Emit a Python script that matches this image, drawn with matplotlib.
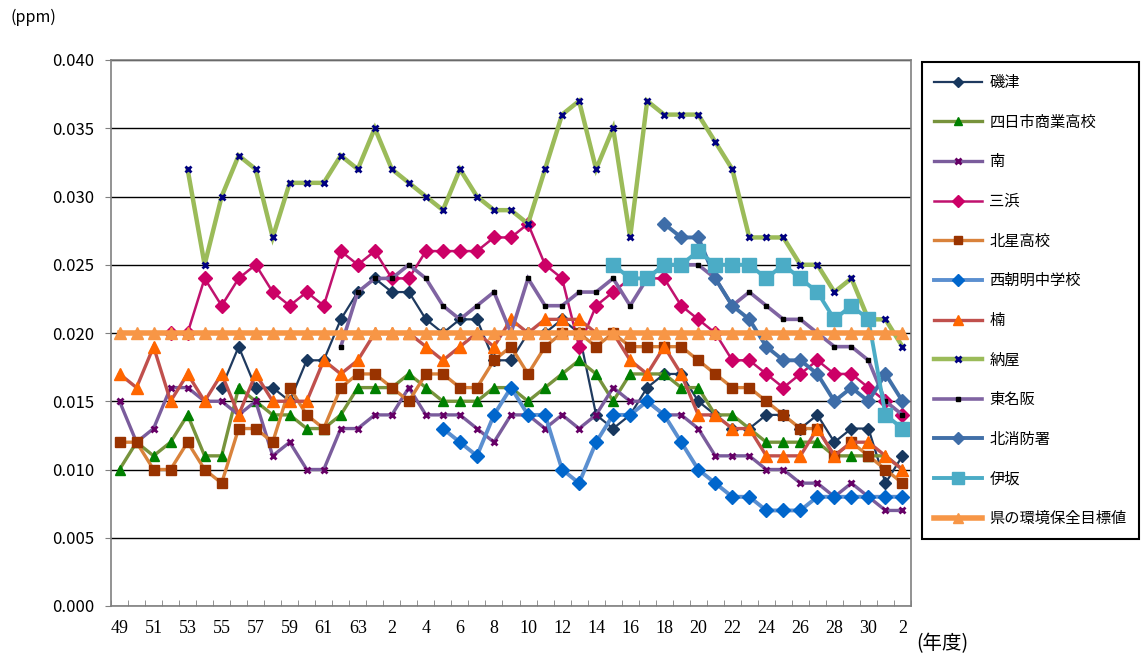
import numpy as np
import matplotlib
matplotlib.use("Agg")
import matplotlib.pyplot as plt
from matplotlib.ticker import FixedLocator

plt.rcParams['font.family'] = ['Noto Sans CJK JP', 'DejaVu Sans']

# years: S49..S63, H1..H30, R1, R2  (47 points)
years = [str(y) for y in range(49, 64)] + [str(y) for y in range(1, 31)] + ["元", "2"]
tick_labels = ["49", "51", "53", "55", "57", "59", "61", "63",
               "2", "4", "6", "8", "10", "12", "14", "16", "18", "20",
               "22", "24", "26", "28", "30", "2"]

N = None
isozu = [N, N, N, N, N, N,
         0.016, 0.019, 0.016, 0.016, 0.015, 0.018, 0.018, 0.021, 0.023,
         0.024, 0.023, 0.023, 0.021, 0.020, 0.021, 0.021, 0.018, 0.018, 0.020,
         0.020, 0.021, 0.020, 0.014, 0.013, 0.014, 0.016, 0.017, 0.017, 0.015,
         0.014, 0.013, 0.013, 0.014, 0.014, 0.013, 0.014, 0.012, 0.013, 0.013,
         0.009, 0.011]
shogyo = [0.010, 0.012, 0.011, 0.012, 0.014, 0.011, 0.011, 0.016, 0.015, 0.014,
          0.014, 0.013, 0.013, 0.014, 0.016,
          0.016, 0.016, 0.017, 0.016, 0.015, 0.015, 0.015, 0.016, 0.016, 0.015,
          0.016, 0.017, 0.018, 0.017, 0.015, 0.017, 0.017, 0.017, 0.016, 0.016,
          0.014, 0.014, 0.013, 0.012, 0.012, 0.012, 0.012, 0.011, 0.011, 0.011,
          0.011, 0.010]
minami = [0.015, 0.012, 0.013, 0.016, 0.016, 0.015, 0.015, 0.014, 0.015, 0.011,
          0.012, 0.010, 0.010, 0.013, 0.013,
          0.014, 0.014, 0.016, 0.014, 0.014, 0.014, 0.013, 0.012, 0.014, 0.014,
          0.013, 0.014, 0.013, 0.014, 0.016, 0.015, 0.015, 0.014, 0.014, 0.013,
          0.011, 0.011, 0.011, 0.010, 0.010, 0.009, 0.009, 0.008, 0.009, 0.008,
          0.007, 0.007]
mihama = [N, N, N,
          0.020, 0.020, 0.024, 0.022, 0.024, 0.025, 0.023, 0.022, 0.023, 0.022,
          0.026, 0.025,
          0.026, 0.024, 0.024, 0.026, 0.026, 0.026, 0.026, 0.027, 0.027, 0.028,
          0.025, 0.024, 0.019, 0.022, 0.023, 0.024, 0.024, 0.024, 0.022, 0.021,
          0.020, 0.018, 0.018, 0.017, 0.016, 0.017, 0.018, 0.017, 0.017, 0.016,
          0.015, 0.014]
hokusei = [0.012, 0.012, 0.010, 0.010, 0.012, 0.010, 0.009, 0.013, 0.013, 0.012,
           0.016, 0.014, 0.013, 0.016, 0.017,
           0.017, 0.016, 0.015, 0.017, 0.017, 0.016, 0.016, 0.018, 0.019, 0.017,
           0.019, 0.020, 0.020, 0.019, 0.020, 0.019, 0.019, 0.019, 0.019, 0.018,
           0.017, 0.016, 0.016, 0.015, 0.014, 0.013, 0.013, 0.011, 0.012, 0.011,
           0.010, 0.009]
nishiasake = [N] * 19 + [
              0.013, 0.012, 0.011, 0.014, 0.016, 0.014,
              0.014, 0.010, 0.009, 0.012, 0.014, 0.014, 0.015, 0.014, 0.012, 0.010,
              0.009, 0.008, 0.008, 0.007, 0.007, 0.007, 0.008, 0.008, 0.008, 0.008,
              0.008, 0.008]
kusu = [0.017, 0.016, 0.019, 0.015, 0.017, 0.015, 0.017, 0.014, 0.017, 0.015,
        0.015, 0.015, 0.018, 0.017, 0.018,
        0.020, 0.020, 0.020, 0.019, 0.018, 0.019, 0.020, 0.019, 0.021, 0.020,
        0.021, 0.021, 0.021, 0.020, 0.020, 0.018, 0.017, 0.019, 0.017, 0.014,
        0.014, 0.013, 0.013, 0.011, 0.011, 0.011, 0.013, 0.011, 0.012, 0.012,
        0.011, 0.010]
nagoya = [N, N, N, N,
          0.032, 0.025, 0.030, 0.033, 0.032, 0.027, 0.031, 0.031, 0.031, 0.033,
          0.032,
          0.035, 0.032, 0.031, 0.030, 0.029, 0.032, 0.030, 0.029, 0.029, 0.028,
          0.032, 0.036, 0.037, 0.032, 0.035, 0.027, 0.037, 0.036, 0.036, 0.036,
          0.034, 0.032, 0.027, 0.027, 0.027, 0.025, 0.025, 0.023, 0.024, 0.021,
          0.021, 0.019]
higashimeihan = [N] * 13 + [
                 0.019, 0.023,
                 0.024, 0.024, 0.025, 0.024, 0.022, 0.021, 0.022, 0.023, 0.020, 0.024,
                 0.022, 0.022, 0.023, 0.023, 0.024, 0.022, 0.024, 0.025, 0.025, 0.025,
                 0.024, 0.022, 0.023, 0.022, 0.021, 0.021, 0.020, 0.019, 0.019, 0.018,
                 0.015, 0.014]
kitashobo = [N] * 32 + [
             0.028, 0.027, 0.027,
             0.024, 0.022, 0.021, 0.019, 0.018, 0.018, 0.017, 0.015, 0.016, 0.015,
             0.017, 0.015]
isaka = [N] * 29 + [
         0.025, 0.024, 0.024, 0.025, 0.025, 0.026,
         0.025, 0.025, 0.025, 0.024, 0.025, 0.024, 0.023, 0.021, 0.022, 0.021,
         0.014, 0.013]
standard = [0.020] * 47

# (label, values, line colour, line width, marker, marker size, marker colour, edge width)
series = [
    ("磯津", isozu, "#1F3A5F", 1.6, "D", 6, "#17375E", 1),
    ("四日市商業高校", shogyo, "#77933C", 2.4, "^", 6.5, "#008000", 1),
    ("南", minami, "#7A5C9C", 2.4, "x", 5, "#660066", 2),
    ("三浜", mihama, "#C0126E", 1.8, "D", 7.5, "#CC0066", 1),
    ("北星高校", hokusei, "#D9823B", 2.4, "s", 7.5, "#993300", 1),
    ("西朝明中学校", nishiasake, "#5B8FD0", 2.8, "D", 7, "#0066CC", 1),
    ("楠", kusu, "#C0504D", 2.4, "^", 9, "#FF6600", 1),
    ("納屋", nagoya, "#9BBB59", 3.2, "x", 5, "#000080", 2),
    ("東名阪", higashimeihan, "#8064A2", 2.6, "s", 3, "#000000", 1),
    ("北消防署", kitashobo, "#4170A8", 2.8, "D", 7.5, "#3E6DA8", 1),
    ("伊坂", isaka, "#4BACC6", 2.8, "s", 9.5, "#4BACC6", 1),
    ("県の環境保全目標値", standard, "#F79646", 4.0, "^", 8.5, "#F79646", 1),
]

fig = plt.figure(figsize=(11.42, 6.57), dpi=100)
ax = fig.add_axes([111 / 1142, 51 / 657, 800 / 1142, 546 / 657])

x = np.arange(len(years))
for label, vals, lc, lw, mk, ms, mc, mew in series:
    y = np.array([np.nan if v is None else v for v in vals], dtype=float)
    ax.plot(x, y, color=lc, lw=lw, marker=mk, markersize=ms,
            markerfacecolor=mc, markeredgecolor=mc, markeredgewidth=mew,
            label=label, solid_joinstyle="miter")

ax.set_xlim(-0.5, len(years) - 0.5)
ax.set_ylim(0, 0.040)
ax.set_yticks(np.arange(0, 0.0401, 0.005))
ax.set_yticklabels([f"{v:.3f}" for v in np.arange(0, 0.0401, 0.005)])
ax.yaxis.grid(True, color="black", lw=1)
ax.set_axisbelow(True)

ax.set_xticks(x[::2])
ax.set_xticklabels(tick_labels, fontfamily="Liberation Serif", fontsize=13)
ax.xaxis.set_minor_locator(FixedLocator(np.arange(-0.5, len(years), 1)))
ax.tick_params(axis="x", which="major", length=0, pad=10)
ax.tick_params(axis="x", which="minor", direction="in", length=4, color="#808080")
ax.tick_params(axis="y", direction="out", length=4, color="#808080",
               labelsize=12, pad=8)
for s in ax.spines.values():
    s.set_color("#808080")
    s.set_linewidth(1.2)

fig.text(10 / 1142, 1 - 17 / 657, "(ppm)", fontsize=11.5, va="center")
fig.text(916 / 1142, 1 - 644 / 657, "(年度)", fontsize=14, va="center")

leg = fig.legend(loc="upper left", bbox_to_anchor=(922 / 1142, 1 - 62 / 657),
                 fontsize=11, handlelength=3.1, labelspacing=1.48,
                 borderpad=0.8, handletextpad=0.5, fancybox=False,
                 markerscale=0.85, edgecolor="black", framealpha=1,
                 borderaxespad=0)
leg.get_frame().set_linewidth(1.5)

fig.savefig("out.png", dpi=100)
